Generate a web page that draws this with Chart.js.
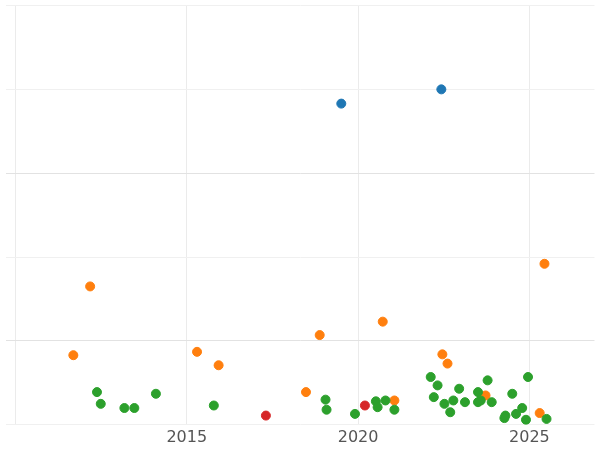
<!DOCTYPE html>
<html lang="en">
<head>
  <meta charset="UTF-8" />
  <script src="https://cdn.jsdelivr.net/npm/chart.js"></script>
  <style>
    html, body { margin: 0; background: #fff; }
    #wrap { width: 600px; height: 450px; }
  </style>
</head>
<body>
  <div id="wrap"><canvas id="chart"></canvas></div>
  <script>
    const blueX = [2019.51, 2022.43];
    const blueY = [3.83, 4.0];
    const orangeX = [2011.69, 2012.18, 2015.30, 2015.93, 2018.48, 2018.88, 2020.72, 2021.06, 2022.46, 2022.61, 2023.72, 2025.30, 2025.44];
    const orangeY = [0.83, 1.65, 0.87, 0.71, 0.39, 1.07, 1.23, 0.29, 0.84, 0.73, 0.35, 0.14, 1.92];
    const redX = [2017.31, 2020.20];
    const redY = [0.11, 0.23];
    const greenX = [2012.38, 2012.49, 2013.18, 2013.47, 2014.10, 2015.79, 2019.05, 2019.08, 2019.91, 2020.52, 2020.57, 2020.80, 2021.06, 2022.12, 2022.21, 2022.32, 2022.52, 2022.69, 2022.78, 2022.95, 2023.12, 2023.50, 2023.50, 2023.58, 2023.78, 2023.90, 2024.27, 2024.30, 2024.50, 2024.61, 2024.79, 2024.90, 2024.96, 2025.50];
    const greenY = [0.39, 0.25, 0.20, 0.20, 0.37, 0.23, 0.30, 0.18, 0.13, 0.28, 0.21, 0.29, 0.18, 0.57, 0.33, 0.47, 0.25, 0.15, 0.29, 0.43, 0.27, 0.39, 0.27, 0.29, 0.53, 0.27, 0.08, 0.11, 0.37, 0.13, 0.20, 0.06, 0.57, 0.07];
    const xTicks = [2010, 2015, 2020, 2025];

    const pts = (xs, ys) => xs.map((x, i) => ({ x: x, y: ys[i] }));
    const ds = (xs, ys, color) => ({
      data: pts(xs, ys), backgroundColor: color, borderColor: color,
      pointRadius: 4.5, pointHoverRadius: 4.5
    });

    new Chart(document.getElementById("chart"), {
      type: 'scatter',
      data: {
        datasets: [
          ds(greenX, greenY, '#2ca02c'),
          ds(orangeX, orangeY, '#ff7f0e'),
          ds(redX, redY, '#d62728'),
          ds(blueX, blueY, '#1f77b4')
        ]
      },
      options: {
        responsive: true, maintainAspectRatio: false, animation: false,
        layout: { padding: 0 },
        plugins: { legend: { display: false }, tooltip: { enabled: false } },
        scales: {
          x: {
            min: 2009.71, max: 2026.9,
            afterBuildTicks: ax => { ax.ticks = xTicks.map(v => ({ value: v })); },
            ticks: {
              color: '#555', font: { family: 'DejaVu Sans', size: 16 },
              callback: v => v === 2010 ? '' : String(v)
            },
            grid: { color: '#ebebeb', drawTicks: false },
            border: { display: false }
          },
          y: {
            min: 0, max: 5,
            ticks: { display: false, stepSize: 1 },
            grid: { color: ctx => (ctx.tick && (ctx.tick.value === 1 || ctx.tick.value === 3)) ? '#e2e2e2' : '#f0f0f0', drawTicks: false },
            border: { display: false }
          }
        }
      }
    });
  </script>
</body>
</html>
